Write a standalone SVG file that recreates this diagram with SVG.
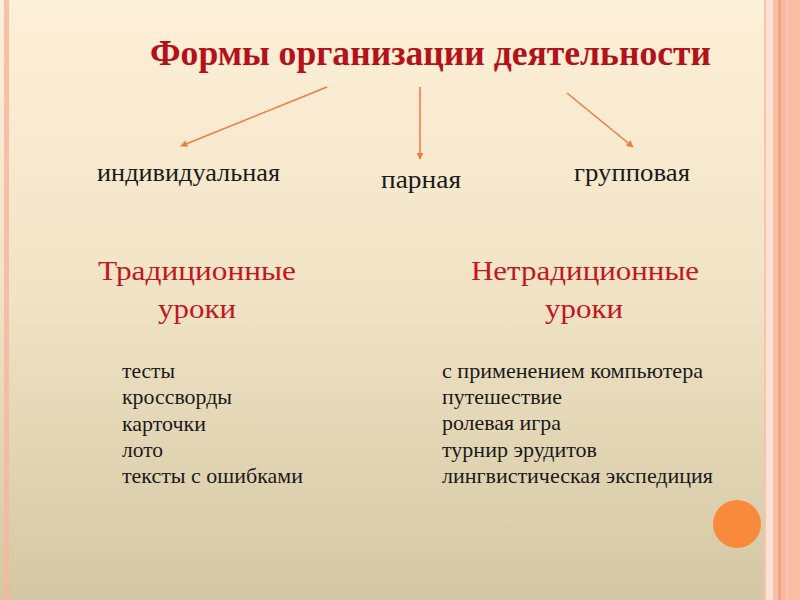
<svg xmlns="http://www.w3.org/2000/svg" width="800" height="600" viewBox="0 0 800 600">
<defs>
<linearGradient id="bg" x1="0" y1="0" x2="0" y2="1">
<stop offset="0" stop-color="#fdf0d8"/>
<stop offset="0.5" stop-color="#f0e3c5"/>
<stop offset="1" stop-color="#d4c7a3"/>
</linearGradient>
<marker id="ah" viewBox="0 0 10 10" refX="9" refY="5" markerWidth="7" markerHeight="7" markerUnits="userSpaceOnUse" orient="auto">
<path d="M0,0 L10,5 L0,10 Z" fill="#f07a3e"/>
</marker>
<style>
.arrow{stroke:#f07a3e;stroke-width:1.5;fill:none;marker-end:url(#ah)}
.title{font-family:"Liberation Serif","Times New Roman",serif;font-weight:bold;font-size:35px;fill:#b3121a}
.lbl{font-family:"Liberation Serif","Times New Roman",serif;font-size:26px;fill:#1a1a1a}
.head{font-family:"Liberation Serif","Times New Roman",serif;font-size:28px;fill:#c0181e}
.item{font-family:"Liberation Serif","Times New Roman",serif;font-size:22px;fill:#1a1a1a}
</style>
</defs>
<rect x="0" y="0" width="800" height="600" fill="url(#bg)"/>
<g id="frame">
<rect x="4" y="0" width="5" height="600" fill="#f7b6a2" opacity="0.85"/>
<rect x="764" y="0" width="2" height="600" fill="#f6c4b0"/>
<rect x="766" y="0" width="7" height="600" fill="#fce2d0"/>
<rect x="773" y="0" width="5" height="600" fill="#f8bfa7"/>
<rect x="778" y="0" width="3" height="600" fill="#f4a27e"/>
<rect x="781" y="0" width="5" height="600" fill="#f8b9a0"/>
<rect x="786" y="0" width="2" height="600" fill="#f9c8b4"/>
<rect x="788" y="0" width="12" height="600" fill="#fbbca5"/>
</g>
<g id="title"><text class="title" x="150" y="65" textLength="561" lengthAdjust="spacingAndGlyphs">Формы организации деятельности</text></g>
<g id="connectors">
<line class="arrow" x1="327" y1="87" x2="181" y2="146"/>
<line class="arrow" x1="420" y1="87" x2="420" y2="159"/>
<line class="arrow" x1="567" y1="93" x2="633" y2="147"/>
</g>
<g id="individual"><text class="lbl" x="97" y="181" textLength="183" lengthAdjust="spacingAndGlyphs">индивидуальная</text></g>
<g id="pair"><text class="lbl" x="381" y="188" textLength="80" lengthAdjust="spacingAndGlyphs">парная</text></g>
<g id="group"><text class="lbl" x="574" y="181" textLength="116" lengthAdjust="spacingAndGlyphs">групповая</text></g>
<g id="traditional">
<text class="head" x="98" y="280" textLength="198" lengthAdjust="spacingAndGlyphs">Традиционные</text>
<text class="head" x="158" y="318" textLength="78" lengthAdjust="spacingAndGlyphs">уроки</text>
</g>
<g id="nontraditional">
<text class="head" x="471" y="280" textLength="228" lengthAdjust="spacingAndGlyphs">Нетрадиционные</text>
<text class="head" x="545" y="318" textLength="78" lengthAdjust="spacingAndGlyphs">уроки</text>
</g>
<g id="traditional-list">
<text class="item" x="122" y="378" textLength="53" lengthAdjust="spacingAndGlyphs">тесты</text>
<text class="item" x="122" y="404" textLength="110" lengthAdjust="spacingAndGlyphs">кроссворды</text>
<text class="item" x="122" y="431" textLength="84" lengthAdjust="spacingAndGlyphs">карточки</text>
<text class="item" x="122" y="457" textLength="41" lengthAdjust="spacingAndGlyphs">лото</text>
<text class="item" x="122" y="483" textLength="181" lengthAdjust="spacingAndGlyphs">тексты с ошибками</text>
</g>
<g id="nontraditional-list">
<text class="item" x="442" y="378" textLength="261" lengthAdjust="spacingAndGlyphs">с применением компьютера</text>
<text class="item" x="442" y="404" textLength="120" lengthAdjust="spacingAndGlyphs">путешествие</text>
<text class="item" x="442" y="430" textLength="119" lengthAdjust="spacingAndGlyphs">ролевая игра</text>
<text class="item" x="442" y="457" textLength="155" lengthAdjust="spacingAndGlyphs">турнир эрудитов</text>
<text class="item" x="442" y="483" textLength="271" lengthAdjust="spacingAndGlyphs">лингвистическая экспедиция</text>
</g>
<circle cx="737" cy="524" r="24" fill="#f98a3c"/>
</svg>
